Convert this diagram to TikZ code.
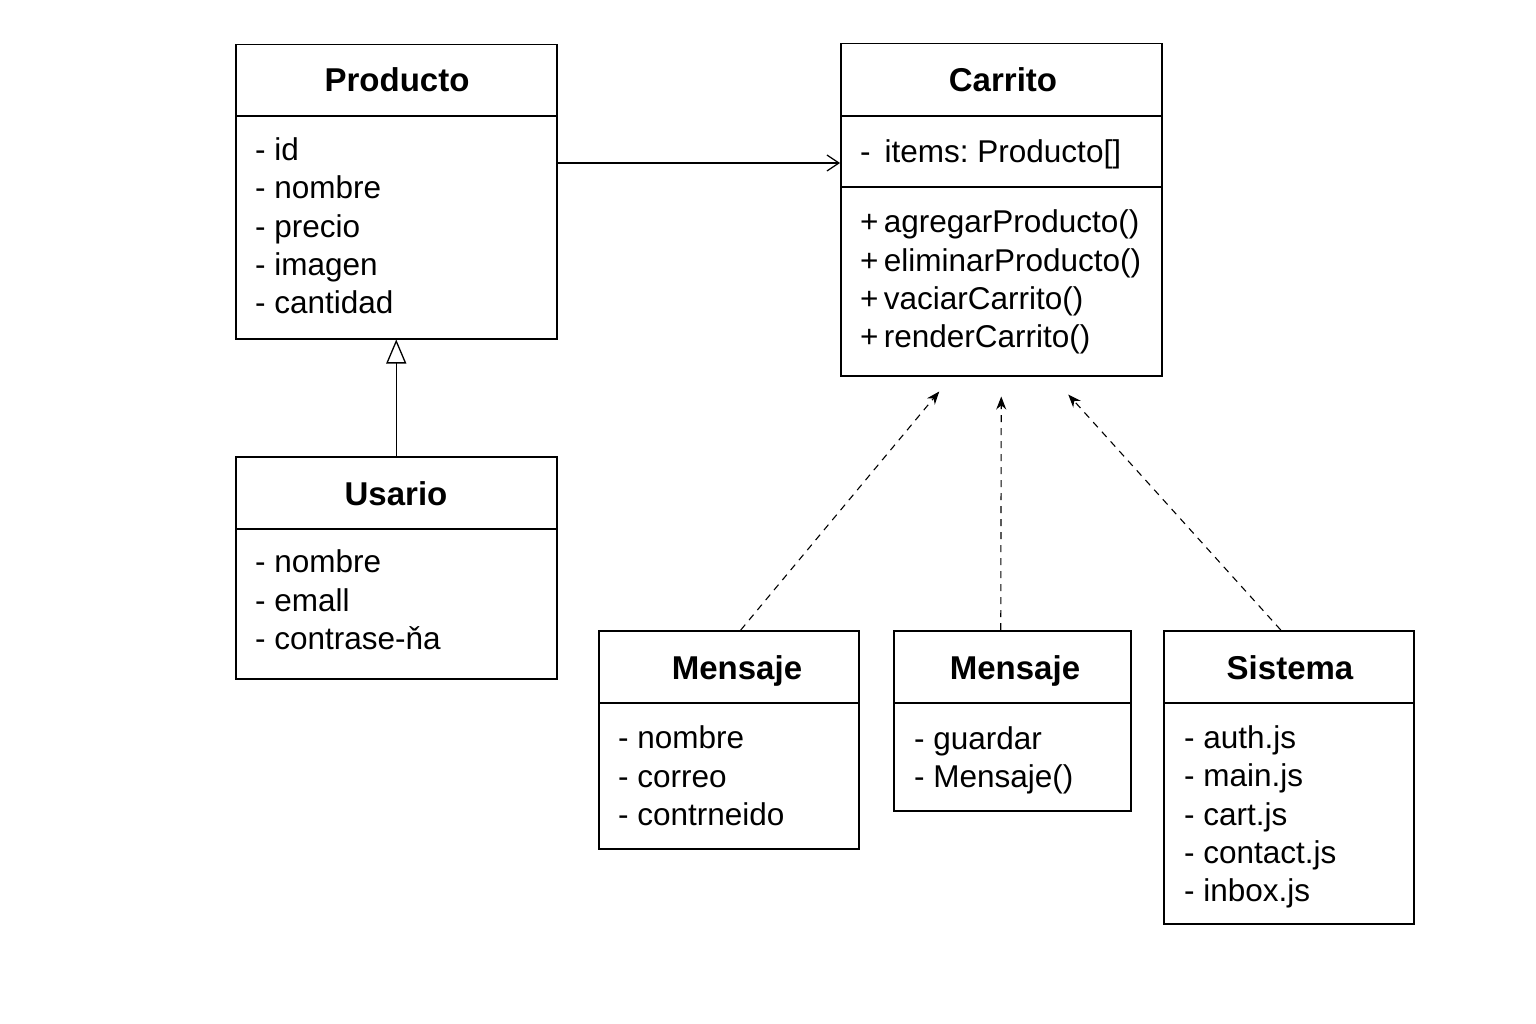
\documentclass[tikz,border=0pt]{standalone}
\usepackage{fontspec}
\setmainfont{Liberation Sans}
\usetikzlibrary{arrows.meta}
\frenchspacing
\begin{document}
\begin{tikzpicture}[x=1pt,y=-1pt,
  classbox/.style={draw=black,line width=1.5pt,fill=white,anchor=north west,inner sep=0pt},
  classtitle/.style={font=\fontsize{33}{38}\selectfont\bfseries,inner sep=0pt,anchor=base},
  members/.style={font=\fontsize{31.5}{38.3}\selectfont,align=left,anchor=west,inner sep=0pt},
  divider/.style={line width=1.5pt},
  assoc/.style={line width=1.2pt,-{Straight Barb[length=12pt,width=16pt,line width=1.2pt]}},
  inherit/.style={line width=1.3pt,-{Triangle[open,length=24pt,width=20pt,fill=white,line width=1.3pt]}},
  depend/.style={line width=1.1pt,dash pattern=on 7pt off 6pt,-{Stealth[length=13pt,width=10pt]}}
]
\useasboundingbox (0,0) rectangle (1536,1024);
\fill[white] (0,0) rectangle (1536,1024);

% Producto
\node[classbox,minimum width=321pt,minimum height=294pt] (producto) at (235,44) {};
\draw[divider] ([yshift=-72pt]producto.north west) -- ([yshift=-72pt]producto.north east);
\node[classtitle] (productoT) at (397,92) {Producto};
\node[members] (productoA) at (255,226) {- id\\- nombre\\- precio\\- imagen\\- cantidad};

% Carrito
\node[classbox,minimum width=321pt,minimum height=332pt] (carrito) at (840,43) {};
\draw[divider] ([yshift=-73pt]carrito.north west) -- ([yshift=-73pt]carrito.north east);
\draw[divider] ([yshift=-144pt]carrito.north west) -- ([yshift=-144pt]carrito.north east);
\node[classtitle] (carritoT) at (1003,92) {Carrito};
\node[members] (carritoA) at (860,154) {-\, items: Producto[]};
\node[members] (carritoM) at (860,282) {+\,agregarProducto()\\+\,eliminarProducto()\\+\,vaciarCarrito()\\+\,renderCarrito()};

% Usario
\node[classbox,minimum width=321pt,minimum height=222pt] (usario) at (235,456) {};
\draw[divider] ([yshift=-73pt]usario.north west) -- ([yshift=-73pt]usario.north east);
\node[classtitle] (usarioT) at (396,505) {Usario};
\node[members] (usarioA) at (255,600) {- nombre\\- emall\\- contrase-ňa};

% Mensaje 1
\node[classbox,minimum width=260pt,minimum height=218pt] (mensajeA) at (598,630) {};
\draw[divider] ([yshift=-73pt]mensajeA.north west) -- ([yshift=-73pt]mensajeA.north east);
\node[classtitle] (mensajeAT) at (737,679) {Mensaje};
\node[members] (mensajeAA) at (618,776) {- nombre\\- correo\\- contrneido};

% Mensaje 2
\node[classbox,minimum width=237pt,minimum height=180pt] (mensajeB) at (893,630) {};
\draw[divider] ([yshift=-73pt]mensajeB.north west) -- ([yshift=-73pt]mensajeB.north east);
\node[classtitle] (mensajeBT) at (1015,679) {Mensaje};
\node[members] (mensajeBA) at (914,760) {- guardar\\- Mensaje()};

% Sistema
\node[classbox,minimum width=250pt,minimum height=293pt] (sistema) at (1163,630) {};
\draw[divider] ([yshift=-73pt]sistema.north west) -- ([yshift=-73pt]sistema.north east);
\node[classtitle] (sistemaT) at (1290,679) {Sistema};
\node[members] (sistemaA) at (1184,817) {- auth.js\\- main.js\\- cart.js\\- contact.js\\- inbox.js};

% connectors
\draw[assoc] (producto.east |- 0,163) -- (carrito.west |- 0,163);
\draw[inherit] (usario.north) -- (producto.south);
\draw[depend] ([xshift=12pt]mensajeA.north) -- ([xshift=-62pt,yshift=-15pt]carrito.south);
\draw[depend] ([xshift=-11.5pt]mensajeB.north) -- ([xshift=0pt,yshift=-20pt]carrito.south);
\draw[depend] ([xshift=-8pt]sistema.north) -- ([xshift=67pt,yshift=-18pt]carrito.south);
\end{tikzpicture}
\end{document}
